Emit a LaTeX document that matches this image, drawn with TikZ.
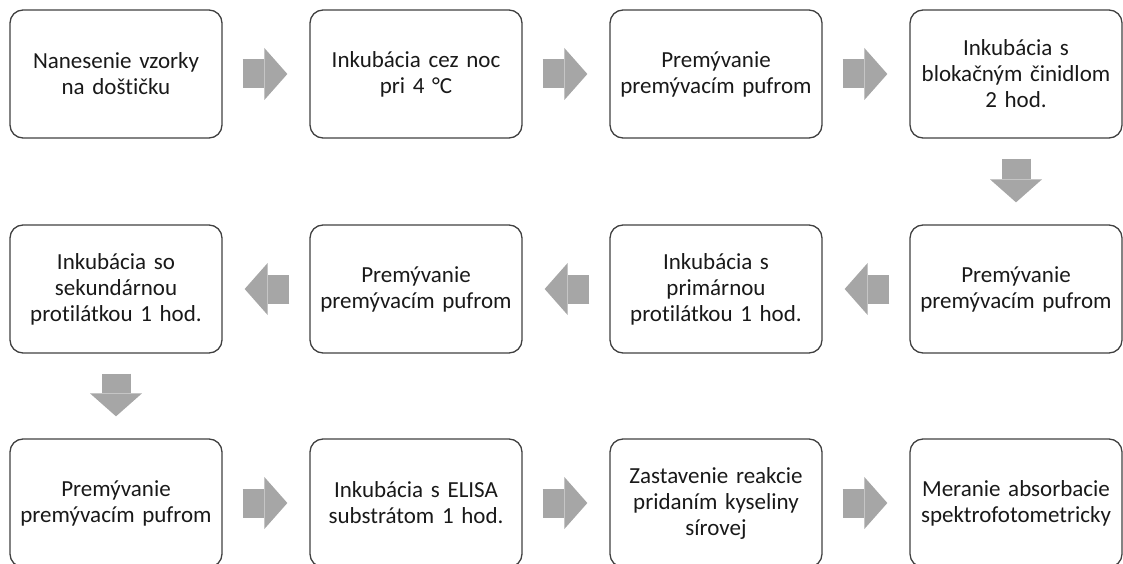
\documentclass[tikz,border=0pt]{standalone}
\usepackage{fontspec}
\setmainfont[Ligatures=NoCommon]{Carlito}
\usetikzlibrary{arrows.meta}

\definecolor{ramcek}{HTML}{404040}
\definecolor{sivasipka}{HTML}{A6A6A6}

\tikzset{
    krok/.style={draw=ramcek, line width=1.3pt, rounded corners=13pt,
        minimum width=212pt, minimum height=128pt, text width=205pt,
        align=center, text=black!90, font=\fontsize{23}{26}\selectfont},
    sipka/.style={draw=sivasipka, line width=29pt,
        shorten <=20pt, shorten >=22pt,
        -{Triangle[length=23pt,width=52pt,line width=0pt]}}
}

\begin{document}
\begin{tikzpicture}[x=1pt,y=-1pt]

\useasboundingbox (0,0) rectangle (1123,564);

% Prvý riadok
\node[krok] (k1) at (116,74) {Nanesenie vzorky\\na doštičku};
\node[krok] (k2) at (416,74) {Inkubácia cez noc\\pri 4 °C};
\node[krok] (k3) at (716,74) {Premývanie\\premývacím pufrom};
\node[krok] (k4) at (1016,74) {Inkubácia s\\blokačným činidlom\\2 hod.};

% Druhý riadok
\node[krok] (k5) at (1016,289) {Premývanie\\premývacím pufrom};
\node[krok] (k6) at (716,289) {Inkubácia s\\primárnou\\protilátkou 1 hod.};
\node[krok] (k7) at (416,289) {Premývanie\\premývacím pufrom};
\node[krok] (k8) at (116,289) {Inkubácia so\\sekundárnou\\protilátkou 1 hod.};

% Tretí riadok
\node[krok] (k9) at (116,503) {Premývanie\\premývacím pufrom};
\node[krok] (k10) at (416,503) {Inkubácia s ELISA\\substrátom 1 hod.};
\node[krok] (k11) at (716,503) {Zastavenie reakcie\\pridaním kyseliny\\sírovej};
\node[krok] (k12) at (1016,503) {Meranie absorbacie\\spektrofotometricky};

% Šípky
\foreach \a/\b in {k1/k2,k2/k3,k3/k4,k4/k5,k5/k6,k6/k7,k7/k8,k8/k9,k9/k10,k10/k11,k11/k12}
{
    \draw[sipka] (\a) -- (\b);
}

\end{tikzpicture}
\end{document}
